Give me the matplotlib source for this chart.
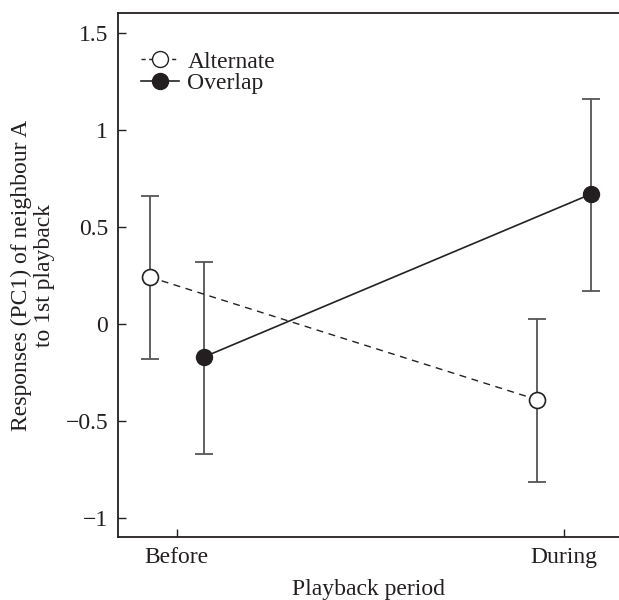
import matplotlib
matplotlib.use("Agg")
import matplotlib.pyplot as plt
from matplotlib.lines import Line2D

plt.rcParams['font.family'] = ['Liberation Serif', 'DejaVu Serif']

periods = ["Before", "During"]
series = ["Alternate", "Overlap"]
alt_mean = [0.24, -0.392]
alt_low = [-0.184, -0.815]
alt_high = [0.656, 0.022]
ovl_mean = [-0.172, 0.668]
ovl_low = [-0.67, 0.17]
ovl_high = [0.316, 1.158]
yticks = [-1, -0.5, 0, 0.5, 1, 1.5]
yticklabels = ["\u22121", "\u22120.5", "0", "0.5", "1", "1.5"]

FS = 17

fig = plt.figure(figsize=(6.19, 6.0), dpi=100)
ax = fig.add_axes([0.1906, 0.105, 0.8094, 0.873])

base = [0, 1]
off = 0.07
x_alt = [b - off for b in base]
x_ovl = [b + off for b in base]

ecol = '#555555'
ax.errorbar(x_alt, alt_mean,
            yerr=[[m - l for m, l in zip(alt_mean, alt_low)], [h - m for m, h in zip(alt_mean, alt_high)]],
            fmt='none', ecolor=ecol, elinewidth=1.3, capsize=6.5, capthick=1.3, zorder=1)
ax.errorbar(x_ovl, ovl_mean,
            yerr=[[m - l for m, l in zip(ovl_mean, ovl_low)], [h - m for m, h in zip(ovl_mean, ovl_high)]],
            fmt='none', ecolor=ecol, elinewidth=1.3, capsize=6.5, capthick=1.3, zorder=1)
ax.plot(x_alt, alt_mean, linestyle=(0, (5, 4)), color='#222222', lw=1.0,
        marker='o', markersize=11.5, markerfacecolor='white', markeredgecolor='#222222',
        markeredgewidth=1.2, zorder=3)
ax.plot(x_ovl, ovl_mean, linestyle='-', color='#222222', lw=1.2,
        marker='o', markersize=11.5, markerfacecolor='#231f20', markeredgecolor='#231f20', zorder=3)

ax.set_xlim(-0.152, 1.142)
ax.set_ylim(-1.1, 1.6)
ax.set_xticks(base)
ax.set_xticklabels(periods)
ax.set_yticks(yticks)
ax.set_yticklabels(yticklabels)
ax.tick_params(direction='in', length=6, width=1, labelsize=FS, colors='#231f20', pad=7)
ax.spines['right'].set_visible(False)
for s in ['left', 'bottom', 'top']:
    ax.spines[s].set_linewidth(1.3)
    ax.spines[s].set_color('#231f20')

ax.set_xlabel("Playback period", fontsize=FS, labelpad=8, color='#231f20')
ax.set_ylabel("Responses (PC1) of neighbour A\nto 1st playback", fontsize=FS, labelpad=8,
              color='#231f20', linespacing=1.1)

handles = [
    Line2D([], [], linestyle=(0, (3, 2.5)), color='#222222', lw=1.0, marker='o', markersize=11.5,
           markerfacecolor='white', markeredgecolor='#222222'),
    Line2D([], [], linestyle='-', color='#222222', lw=1.2, marker='o', markersize=11.5,
           markerfacecolor='#231f20', markeredgecolor='#231f20'),
]
ax.legend(handles, series, loc='upper left', bbox_to_anchor=(0.004, 0.968), frameon=False,
          fontsize=FS, handlelength=1.6, handletextpad=0.35, labelspacing=0.0,
          borderaxespad=0.5, labelcolor='#231f20')

fig.savefig("out.png", dpi=100)
